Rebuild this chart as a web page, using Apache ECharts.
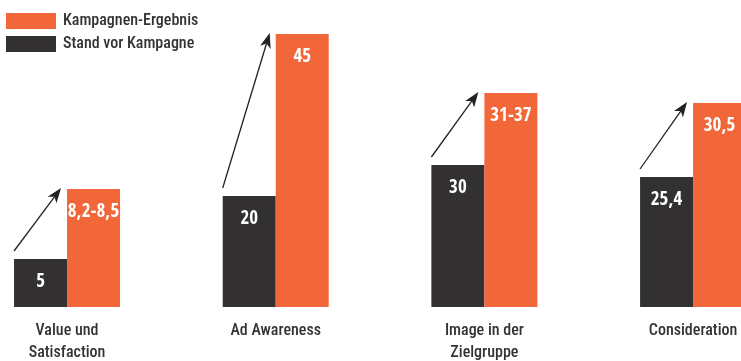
<!DOCTYPE html>
<html><head><meta charset="utf-8">
<script src="https://cdn.jsdelivr.net/npm/echarts@6/dist/echarts.min.js"></script>
<style>html,body{margin:0;padding:0;background:#fff}#c{width:741px;height:361px}</style>
</head><body><div id="c"></div>
<script>
var categories = ['Value und\nSatisfaction', 'Ad Awareness', 'Image in der\nZielgruppe', 'Consideration'];
var seriesNames = ['Kampagnen-Ergebnis', 'Stand vor Kampagne'];
// displayed bar heights (illustrative scale, as drawn in the reference)
var beforeHeights = [48, 111, 142, 130];
var afterHeights = [118, 273, 214, 204];
// value labels printed on bars
var beforeLabels = ['5', '20', '30', '25,4'];
var afterLabels = ['8,2-8,5', '45', '31-37', '30,5'];

var FONT = '"Roboto Condensed", "Open Sans Condensed", sans-serif';
var FONT_B = '"Open Sans Condensed", "Roboto Condensed", sans-serif';
var ORANGE = '#F26739';
var DARK = '#323031';
var BW = 53;

var chart = echarts.init(document.getElementById('c'));
chart.setOption({
  animation: false,
  textStyle: {fontFamily: FONT},
  legend: {
    orient: 'vertical', left: 6, top: 13, itemWidth: 50, itemHeight: 16, itemGap: 7,
    icon: 'rect', data: seriesNames, padding: 0,
    textStyle: {fontFamily: FONT, fontSize: 16, fontWeight: 500, color: '#333', padding: [0,0,0,2]}
  },
  grid: {left: -37.3, width: 834.7, top: 0, bottom: 54, containLabel: false, outerBoundsMode: 'none'},
  xAxis: {
    type: 'category', data: categories,
    axisLine: {show: false}, axisTick: {show: false},
    axisLabel: {fontFamily: FONT, fontSize: 16, fontWeight: 500, color: '#333', lineHeight: 22, margin: 13, interval: 0}
  },
  yAxis: {type: 'value', min: 0, max: 307, show: false, splitLine: {show: false}},
  series: [
    {
      name: seriesNames[1], type: 'bar', data: beforeHeights, barWidth: BW, barGap: '0%',
      itemStyle: {color: DARK},
      label: {show: true, position: 'insideTop', distance: 14, color: '#fff', fontFamily: FONT_B, fontWeight: 'bold', fontSize: 19,
        formatter: function (p) { return beforeLabels[p.dataIndex]; }}
    },
    {
      name: seriesNames[0], type: 'bar', data: afterHeights, barWidth: BW, barGap: '0%',
      itemStyle: {color: ORANGE},
      label: {show: true, position: 'insideTop', distance: 14, color: '#fff', fontFamily: FONT_B, fontWeight: 'bold', fontSize: 19,
        formatter: function (p) { return afterLabels[p.dataIndex]; }}
    },
    {
      type: 'custom', silent: true, z: 5,
      data: categories.map(function (c, i) { return [i, beforeHeights[i], afterHeights[i]]; }),
      encode: {x: 0, y: [1, 2]},
      renderItem: function (params, api) {
        var i = api.value(0);
        var b = api.coord([i, api.value(1)]);
        var a = api.coord([i, api.value(2)]);
        var x0 = b[0] - BW, y0 = b[1] - 8;
        var x1 = a[0] - 6, y1 = a[1] - 1;
        var dx = x1 - x0, dy = y1 - y0, len = Math.sqrt(dx*dx + dy*dy);
        var ux = dx/len, uy = dy/len, px = -uy, py = ux;
        var hl = 15, hw = 5.5;
        var bx = x1 - ux*hl, by = y1 - uy*hl;
        var nx = x1 - ux*(hl-4), ny = y1 - uy*(hl-4);
        return {
          type: 'group',
          children: [
            {type: 'line', shape: {x1: x0, y1: y0, x2: nx, y2: ny}, style: {stroke: '#222', lineWidth: 1.3}},
            {type: 'polygon', shape: {points: [[x1, y1], [bx + px*hw, by + py*hw], [nx, ny], [bx - px*hw, by - py*hw]]}, style: {fill: '#222'}}
          ]
        };
      }
    }
  ]
});
</script></body></html>
